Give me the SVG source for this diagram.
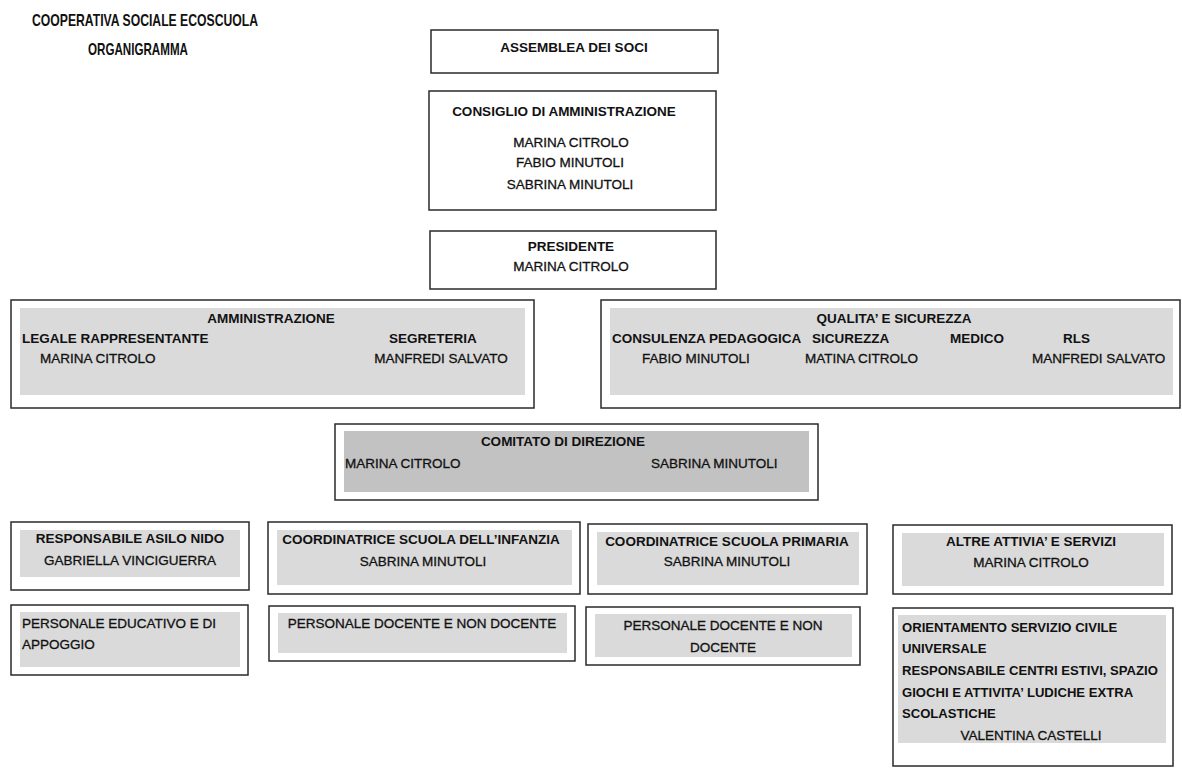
<svg xmlns="http://www.w3.org/2000/svg" width="1182" height="772" viewBox="0 0 1182 772">
<style>
text{font-family:"Liberation Sans",Arial,sans-serif;font-size:13.5px;fill:#111;stroke:#111;stroke-width:0.3}
.b{font-weight:bold;stroke:none}
.c{text-anchor:middle}
.box{fill:#fff;stroke:#2a2a2a;stroke-width:1.5}
.fill{fill:#dadada}
.dark{fill:#c2c2c2}
.t{font-size:17px;font-weight:bold;stroke:none}
.s{font-size:13.1px}
</style>
<rect width="1182" height="772" fill="#fff"/>
<g id="title">
<text class="t" x="32" y="26" textLength="226" lengthAdjust="spacingAndGlyphs">COOPERATIVA SOCIALE ECOSCUOLA</text>
<text class="t" x="88" y="55" textLength="100" lengthAdjust="spacingAndGlyphs">ORGANIGRAMMA</text>
</g>
<g id="assemblea">
<rect class="box" x="431" y="30" width="287" height="43"/>
<text class="b c" x="574" y="52">ASSEMBLEA DEI SOCI</text>
</g>
<g id="consiglio">
<rect class="box" x="429" y="91" width="287" height="119"/>
<text class="b c" x="564" y="116">CONSIGLIO DI AMMINISTRAZIONE</text>
<text class="c" x="571" y="147">MARINA CITROLO</text>
<text class="c" x="570" y="167">FABIO MINUTOLI</text>
<text class="c" x="570" y="189">SABRINA MINUTOLI</text>
</g>
<g id="presidente">
<rect class="box" x="430" y="231" width="286" height="58"/>
<text class="b c" x="571" y="251">PRESIDENTE</text>
<text class="c" x="571" y="271">MARINA CITROLO</text>
</g>
<g id="amministrazione">
<rect class="box" x="11" y="300" width="523" height="108"/>
<rect class="fill" x="20" y="308" width="505" height="87"/>
<text class="b c" x="271" y="323">AMMINISTRAZIONE</text>
<text class="b" x="22" y="343">LEGALE RAPPRESENTANTE</text>
<text x="40" y="363">MARINA CITROLO</text>
<text class="b c" x="433" y="343">SEGRETERIA</text>
<text class="c" x="441" y="363">MANFREDI SALVATO</text>
</g>
<g id="qualita">
<rect class="box" x="601" y="300" width="579" height="108"/>
<rect class="fill" x="610" y="308" width="563" height="87"/>
<text class="b c" x="894" y="323">QUALITA’ E SICUREZZA</text>
<text class="b" x="612" y="343">CONSULENZA PEDAGOGICA</text>
<text class="b" x="812" y="343">SICUREZZA</text>
<text class="b" x="950" y="343">MEDICO</text>
<text class="b" x="1063" y="343">RLS</text>
<text x="642" y="363">FABIO MINUTOLI</text>
<text x="805" y="363">MATINA CITROLO</text>
<text x="1032" y="363">MANFREDI SALVATO</text>
</g>
<g id="comitato">
<rect class="box" x="335" y="424" width="483" height="76"/>
<rect class="dark" x="344" y="431" width="465" height="61"/>
<text class="b c" x="563" y="446">COMITATO DI DIREZIONE</text>
<text x="345" y="468">MARINA CITROLO</text>
<text x="651" y="468">SABRINA MINUTOLI</text>
</g>
<g id="asilo">
<rect class="box" x="11" y="522" width="238" height="68"/>
<rect class="fill" x="20" y="530" width="220" height="47"/>
<text class="b c" x="130" y="543">RESPONSABILE ASILO NIDO</text>
<text class="c" x="130" y="565">GABRIELLA VINCIGUERRA</text>
</g>
<g id="infanzia">
<rect class="box" x="268" y="522" width="312" height="72"/>
<rect class="fill" x="277" y="530" width="295" height="55"/>
<text class="b c" x="421" y="544">COORDINATRICE SCUOLA DELL’INFANZIA</text>
<text class="c" x="423" y="566">SABRINA MINUTOLI</text>
</g>
<g id="primaria">
<rect class="box" x="588" y="524" width="279" height="70"/>
<rect class="fill" x="597" y="532" width="262" height="53"/>
<text class="b c" x="727" y="546">COORDINATRICE SCUOLA PRIMARIA</text>
<text class="c" x="727" y="566">SABRINA MINUTOLI</text>
</g>
<g id="altre">
<rect class="box" x="893" y="525" width="279" height="69"/>
<rect class="fill" x="902" y="533" width="262" height="53"/>
<text class="b c" x="1031" y="546">ALTRE ATTIVIA’ E SERVIZI</text>
<text class="c" x="1031" y="567">MARINA CITROLO</text>
</g>
<g id="personale-educativo">
<rect class="box" x="11" y="605" width="237" height="70"/>
<rect class="fill" x="20" y="612" width="220" height="55"/>
<text x="22" y="628">PERSONALE EDUCATIVO E DI</text>
<text x="22" y="649">APPOGGIO</text>
</g>
<g id="personale-infanzia">
<rect class="box" x="269" y="606" width="306" height="55"/>
<rect class="fill" x="278" y="613" width="289" height="40"/>
<text class="c" x="422" y="628">PERSONALE DOCENTE E NON DOCENTE</text>
</g>
<g id="personale-primaria">
<rect class="box" x="586" y="607" width="274" height="58"/>
<rect class="fill" x="595" y="614" width="257" height="43"/>
<text class="c" x="723" y="630">PERSONALE DOCENTE E NON</text>
<text class="c" x="723" y="652">DOCENTE</text>
</g>
<g id="orientamento">
<rect class="box" x="893" y="608" width="280" height="158"/>
<rect class="fill" x="898" y="615" width="268" height="128"/>
<text class="b s" x="902" y="632">ORIENTAMENTO SERVIZIO CIVILE</text>
<text class="b s" x="902" y="653">UNIVERSALE</text>
<text class="b s" x="902" y="675">RESPONSABILE CENTRI ESTIVI, SPAZIO</text>
<text class="b s" x="902" y="697">GIOCHI E ATTIVITA’ LUDICHE EXTRA</text>
<text class="b s" x="902" y="718">SCOLASTICHE</text>
<text class="c" x="1031" y="740">VALENTINA CASTELLI</text>
</g>
<g id="connectors"></g>
</svg>
